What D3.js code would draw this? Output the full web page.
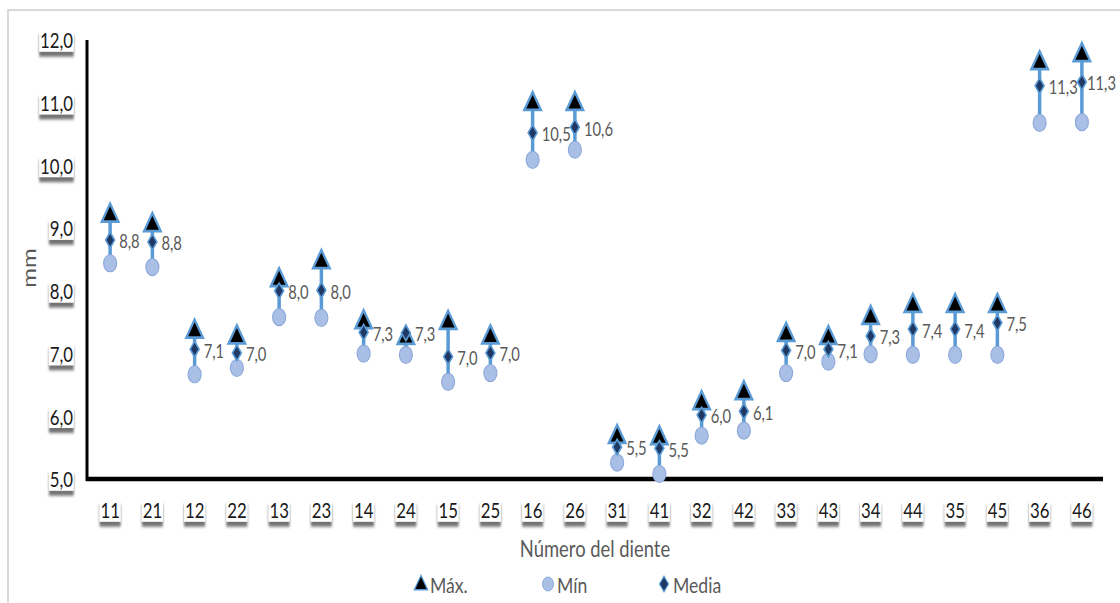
<!DOCTYPE html>
<html><head><meta charset="utf-8">
<script src="https://cdn.jsdelivr.net/npm/d3@7"></script>
<style>
body{margin:0;background:#fff;}
text{font-family:Lato,"Open Sans",sans-serif;}
</style></head>
<body><svg id="c" width="1120" height="603"></svg>
<script>
const teeth = ["11","21","12","22","13","23","14","24","15","25","16","26","31","41","32","42","33","43","34","44","35","45","36","46"];
const maxVals = [9.2,9.05,7.35,7.26,8.17,8.46,7.5,7.25,7.49,7.26,10.98,10.98,5.67,5.65,6.21,6.37,7.3,7.25,7.57,7.76,7.76,7.76,11.63,11.76];
const minVals = [8.44,8.38,6.67,6.77,7.58,7.57,7.0,6.98,6.55,6.69,10.09,10.25,5.26,5.08,5.69,5.77,6.69,6.87,6.99,6.98,6.98,6.98,10.68,10.69];
const meanVals = [8.81,8.78,7.07,7.01,8.0,8.01,7.34,7.33,6.95,7.01,10.52,10.61,5.51,5.49,6.02,6.08,7.05,7.07,7.28,7.39,7.39,7.49,11.27,11.33];
const yTicks = [5,6,7,8,9,10,11,12];
const legendItems = ["Máx.","Mín","Media"];

const SX = 0.8; // horizontal squeeze of text
const svg = d3.select("#c");
const defs = svg.append("defs");
const f = defs.append("filter").attr("id","sh").attr("x","-30%").attr("y","-30%").attr("width","160%").attr("height","180%");
f.append("feDropShadow").attr("dx",0).attr("dy",5).attr("stdDeviation",1.5).attr("flood-color","#444").attr("flood-opacity",0.75);

// outer border
svg.append("rect").attr("x",8).attr("y",10).attr("width",1125).attr("height",600)
  .attr("fill","none").attr("stroke","#d9d9d9").attr("stroke-width",2);

const x = d3.scaleBand().domain(teeth).range([89,1103]);
const y = d3.scaleLinear().domain([5,12]).range([479,40]);
const cx = d => x(d) + x.bandwidth()/2;

const blue = "#5b9bd5", light = "#a9bfe6", navy = "#1f3864", gray = "#595959";

function sq(g, tx, ty, s){ return g.append("g").attr("transform",`translate(${tx},${ty}) scale(${s||SX},1)`); }

function shadowLabel(g, txt, tx, ty, anchor){
  const h = sq(g, tx, ty);
  const t = h.append("text").attr("text-anchor",anchor)
    .attr("dominant-baseline","central").attr("font-size",21).attr("fill","#1a1a1a").text(txt);
  const b = t.node().getBBox();
  h.insert("rect", () => t.node()).attr("x",b.x-1).attr("y",b.y+2).attr("width",b.width+2).attr("height",b.height-3)
    .attr("fill","#fff").attr("filter","url(#sh)");
}

// y tick labels
const gy = svg.append("g");
yTicks.forEach(v => shadowLabel(gy, d3.format(".1f")(v).replace(".",","), 73, y(v), "end"));
// x tick labels
const gx = svg.append("g");
teeth.forEach(t => shadowLabel(gx, t, cx(t), 510, "middle"));

// axes lines
svg.append("line").attr("x1",87).attr("x2",87).attr("y1",40).attr("y2",481).attr("stroke","#000").attr("stroke-width",3);
svg.append("line").attr("x1",86).attr("x2",1103).attr("y1",479).attr("y2",479).attr("stroke","#000").attr("stroke-width",4.5);

// axis titles
svg.append("text").attr("transform","translate(36,268) rotate(-90) scale(1,0.8)").attr("text-anchor","middle")
  .attr("font-size",24).attr("fill",gray).text("mm");
sq(svg, 595, 557).append("text").attr("text-anchor","middle")
  .attr("font-size",23).attr("fill",gray).text("Número del diente");

// high-low lines
const g = svg.append("g");
g.selectAll("line.hl").data(teeth).join("line").attr("class","hl")
  .attr("x1",cx).attr("x2",cx).attr("y1",(d,i)=>y(minVals[i])).attr("y2",(d,i)=>y(maxVals[i]))
  .attr("stroke",blue).attr("stroke-width",3.5);

// min markers
g.selectAll("ellipse").data(teeth).join("ellipse")
  .attr("cx",cx).attr("cy",(d,i)=>y(minVals[i])).attr("rx",6.5).attr("ry",8.5)
  .attr("fill",light).attr("stroke","#8eaadb").attr("stroke-width",1.2);

// max markers
const tri = d3.symbol().type(d3.symbolTriangle).size(120);
g.selectAll("path.mx").data(teeth).join("path").attr("class","mx")
  .attr("d",tri).attr("transform",(d,i)=>`translate(${cx(d)},${y(maxVals[i])}) scale(1,1.25)`)
  .attr("fill","#000").attr("stroke",blue).attr("stroke-width",2.2);

// mean markers
const dia = d3.symbol().type(d3.symbolDiamond).size(70);
g.selectAll("path.mn").data(teeth).join("path").attr("class","mn")
  .attr("d",dia).attr("transform",(d,i)=>`translate(${cx(d)},${y(meanVals[i])})`)
  .attr("fill",navy).attr("stroke",blue).attr("stroke-width",1.6);

// data labels (kept inside the picture)
const LS = 0.74;
teeth.forEach((d,i)=>{
  const h = sq(g, cx(d)+9, y(meanVals[i])+1, LS);
  const t = h.append("text").attr("dominant-baseline","central")
    .attr("font-size",20).attr("fill",gray)
    .text(d3.format(".1f")(meanVals[i]).replace(".",","));
  const w = t.node().getBBox().width*LS;
  const x0 = Math.min(cx(d)+9, 1116 - w);
  h.attr("transform",`translate(${x0},${y(meanVals[i])+1}) scale(${LS},1)`);
});

// legend
const lg = svg.append("g");
const lx = [421,548,664];
lg.append("path").attr("d",tri).attr("transform",`translate(${lx[0]},585) scale(0.8,1)`).attr("fill","#000").attr("stroke",blue).attr("stroke-width",1.5);
lg.append("ellipse").attr("cx",lx[1]).attr("cy",584).attr("rx",5.5).attr("ry",7).attr("fill",light).attr("stroke","#8eaadb");
lg.append("path").attr("d",d3.symbol().type(d3.symbolDiamond).size(70)).attr("transform",`translate(${lx[2]},584)`).attr("fill",navy).attr("stroke",blue).attr("stroke-width",1.2);
legendItems.forEach((t,i)=>sq(lg, lx[i]+9, 584).append("text").attr("dominant-baseline","central")
  .attr("font-size",22).attr("fill",gray).text(t));
</script></body></html>
